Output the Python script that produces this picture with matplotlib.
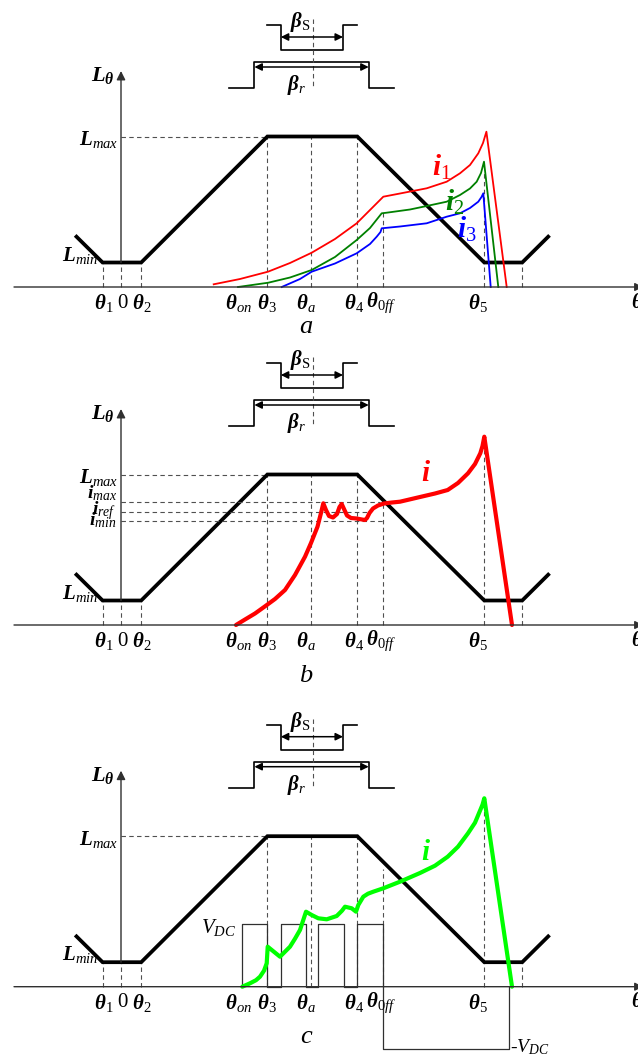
import matplotlib.pyplot as plt

plt.rcParams['mathtext.fontset'] = 'custom'
plt.rcParams['mathtext.rm'] = 'Liberation Serif'
plt.rcParams['mathtext.it'] = 'Liberation Serif:italic'
plt.rcParams['mathtext.bf'] = 'Liberation Serif:bold'
plt.rcParams['mathtext.bfit'] = 'Liberation Serif:italic:bold'
plt.rcParams['font.family'] = ['Liberation Serif', 'DejaVu Serif']

# rotor angle positions on the theta axis
th_1, th_0, th_2 = 102.6, 121.0, 141.2
th_3, th_a, th_4, th_off = 267.4, 311.4, 357.3, 382.6
th_5, th_6 = 484.3, 522.2

# inductance profile L(theta), height above the theta axis
L_max = 150.5
L_min = 24.5
L_x = [76.5, th_1, th_2, th_3, th_4, th_5, th_6, 548.2]
L_h = [50.3, L_min, L_min, L_max, L_max, L_min, L_min, 50.3]

# stator / rotor pole sketch above each graph
stator_x = [266.6, 280.8, 280.8, 343.0, 343.0, 357.0]
stator_h = [262, 262, 237, 237, 262, 262]
rotor_x = [228.7, 254.4, 254.4, 368.7, 368.7, 394.0]
rotor_h = [199, 199, 225, 225, 199, 199]
pole_axis = 312.6

# tick labels under the theta axis
tick_lbl = [r'$\mathbfit{\theta}_{1}$', '0', r'$\mathbfit{\theta}_{2}$',
            r'$\mathbfit{\theta}_{on}$', r'$\mathbfit{\theta}_{3}$',
            r'$\mathbfit{\theta}_{a}$', r'$\mathbfit{\theta}_{4}$',
            r'$\mathbfit{\theta}_{\mathit{0ff}}$', r'$\mathbfit{\theta}_{5}$',
            r'$\mathbfit{\theta}$']
tick_x = [104, 122.5, 141.5, 239, 267, 306, 354, 381, 478, 637]

# panel a : three currents for different turn-on angles
i1_x = [213.7, 240, 268, 290, 311.7, 335, 356.7, 383.3, 400, 426.7, 446.7,
        460, 470, 478.3, 483, 486.4, 506.7]
i1_h = [2.7, 8, 15.3, 24, 34.3, 48, 63.7, 90.3, 93.5, 98.7, 105.3,
        113.7, 122, 133.7, 144, 155.3, 0]
i2_x = [238, 268.3, 290, 311.7, 335, 356.7, 370, 381.7, 386.7, 410, 426.7,
        446.7, 460, 470, 476.7, 481, 484, 498.3]
i2_h = [0, 4.3, 9.5, 17, 30, 47, 59, 73.7, 74.3, 77.5, 81,
        85.3, 92, 98.5, 105.3, 114, 125.3, 0]
i3_x = [281.7, 300, 311.7, 335, 356.7, 370, 376.7, 380.5, 381.7, 400, 426.7,
        446.7, 460, 470, 478.3, 481.5, 483.3, 490.7]
i3_h = [0, 8, 15.3, 23.5, 33.7, 43, 50.3, 55, 58.7, 60.5, 63.7,
        70.3, 73.7, 79, 85.3, 90, 93.7, 0]

# panel b : current chopping between i_min and i_max
i_max, i_ref, i_min = 122.7, 113.3, 104.0
ib_x = [236, 245, 255, 264.5, 275, 285, 295, 305, 311, 317.5, 321, 323.3,
        326, 329, 333, 337, 339.5, 341.7, 344, 347, 351, 356.7, 362, 365,
        367, 369.5, 373, 378, 384, 392, 400, 420, 435, 447.7, 458, 468,
        475, 480.3, 482.5, 484.3, 512]
ib_h = [0, 5.5, 11.5, 18.3, 26, 35, 50, 68.3, 82, 98.3, 112, 121.7,
        115, 109, 107.5, 111, 118, 121, 116, 109.5, 107, 106.5, 105.5, 105,
        107, 112, 116.5, 119.5, 121.5, 122.5, 123.3, 128, 131.5, 135, 142, 151.7,
        161, 171.7, 179, 188.3, 0]

# panel c : voltage PWM and resulting current
pwm_on = [242.3, 280.7, 318.3, 356.7]
pwm_off = [267.3, 306.0, 344.3, th_off]
V_dc = 62.4
neg_end = 509.0
ic_x = [242.3, 250, 256, 260, 264, 266.7, 267.7, 280, 285, 290, 295, 300,
        306, 311.7, 318.3, 326.7, 336.7, 342, 345, 351.7, 356, 358.3, 363.3,
        368, 373.3, 383.3, 400, 420, 435, 447.7, 458, 468, 475, 480.3, 482.5,
        484.3, 512]
ic_h = [0, 3.4, 6.5, 10, 16, 23.4, 40, 30, 35, 40, 48, 56.7,
        75, 71.7, 68.4, 67.4, 70.7, 76, 80, 78.4, 75, 81.7, 90,
        93, 95, 98.4, 105, 113.7, 121, 130, 140, 153.4, 164, 176.7, 182,
        188.4, 0]

bases = [287.0, 625.0, 986.7]
letters = ['a', 'b', 'c']
letter_off = [40, 51, 50]
off_top = [74, 122, 118]
five_top = [117, 175, 188]

fig = plt.figure(figsize=(6.38, 10.57), dpi=100)
ax = fig.add_axes([0, 0, 1, 1])
ax.set_xlim(0, 638)
ax.set_ylim(1057, 0)
ax.axis('off')

ink = '#303030'
dash = dict(color='#505050', lw=0.8, linestyle=(0, (4, 3)))


def Y(base, h):
    if isinstance(h, list):
        return [base - v for v in h]
    return base - h


for k, base in enumerate(bases):
    # pole sketch
    ax.plot(stator_x, Y(base, stator_h), color='k', lw=1.2)
    ax.plot(rotor_x, Y(base, rotor_h), color='k', lw=1.2)
    ax.plot([pole_axis, pole_axis], [Y(base, 268), Y(base, 199)], **dash)
    ax.annotate('', xy=(stator_x[3], Y(base, 250)), xytext=(stator_x[1], Y(base, 250)),
                arrowprops=dict(arrowstyle='<|-|>', color='k', lw=1.1,
                                mutation_scale=11, shrinkA=0, shrinkB=0))
    ax.annotate('', xy=(rotor_x[3], Y(base, 220)), xytext=(rotor_x[1], Y(base, 220)),
                arrowprops=dict(arrowstyle='<|-|>', color='k', lw=1.1,
                                mutation_scale=11, shrinkA=0, shrinkB=0))
    ax.text(300, Y(base, 265), r'$\mathbfit{\beta}_{\mathrm{S}}$', fontsize=15,
            ha='center', va='center')
    ax.text(297, Y(base, 202), r'$\mathbfit{\beta}_{r}$', fontsize=15,
            ha='center', va='center')

    # axes
    ax.annotate('', xy=(643, base), xytext=(14, base), annotation_clip=False,
                arrowprops=dict(arrowstyle='-|>', color=ink, lw=1.0,
                                mutation_scale=12, shrinkA=0, shrinkB=0))
    ax.annotate('', xy=(th_0, Y(base, 216)), xytext=(th_0, Y(base, L_min)),
                arrowprops=dict(arrowstyle='-|>', color=ink, lw=1.0,
                                mutation_scale=13, shrinkA=0, shrinkB=0))
    ax.plot([th_0, th_0], [base, Y(base, L_min)], **dash)
    ax.text(103, Y(base, 211), r'$\mathbfit{L}_{\mathbfit{\theta}}$', fontsize=16,
            ha='center', va='center')
    ax.text(118, Y(base, L_max - 3), r'$\mathbfit{L}_{\mathit{max}}$', fontsize=15,
            ha='right', va='center')
    ax.text(98, Y(base, 32), r'$\mathbfit{L}_{\mathit{min}}$', fontsize=15,
            ha='right', va='center')

    # dashed guides
    ax.plot([th_0, th_3], [Y(base, L_max)] * 2, **dash)
    for xv in [th_1, th_2, th_6]:
        ax.plot([xv, xv], [base, Y(base, L_min)], **dash)
    for xv in [th_3, th_a, th_4]:
        ax.plot([xv, xv], [base, Y(base, L_max)], **dash)
    ax.plot([th_off, th_off], [base, Y(base, off_top[k])], **dash)
    ax.plot([th_5, th_5], [base, Y(base, five_top[k])], **dash)

    # inductance
    ax.plot(L_x, Y(base, L_h), color='k', lw=2.7, solid_joinstyle='miter')

    for lbl, xv in zip(tick_lbl, tick_x):
        ax.text(xv, base + 16, lbl, fontsize=15, ha='center', va='center')
    ax.text(306, base + letter_off[k], letters[k], fontsize=19, style='italic',
            ha='center', va='center')

# panel a currents
b = bases[0]
ax.plot(i1_x, Y(b, i1_h), color='#ff0000', lw=1.3, solid_joinstyle='round')
ax.plot(i2_x, Y(b, i2_h), color='#008000', lw=1.3, solid_joinstyle='round')
ax.plot(i3_x, Y(b, i3_h), color='#0000ff', lw=1.3, solid_joinstyle='round')
ax.text(442, Y(b, 120), r'$\mathbfit{i}_{1}$', fontsize=21, color='#ff0000',
        ha='center', va='center')
ax.text(455, Y(b, 85), r'$\mathbfit{i}_{2}$', fontsize=21, color='#008000',
        ha='center', va='center')
ax.text(467, Y(b, 58), r'$\mathbfit{i}_{3}$', fontsize=21, color='#0000ff',
        ha='center', va='center')

# panel b current with hysteresis band
b = bases[1]
ax.plot([th_0, 380], [Y(b, i_max)] * 2, **dash)
ax.plot([th_0, 368], [Y(b, i_ref)] * 2, **dash)
ax.plot([th_0, th_off], [Y(b, i_min)] * 2, **dash)
ax.text(117, Y(b, 132), r'$\mathbfit{i}_{\mathit{max}}$', fontsize=14,
        ha='right', va='center')
ax.text(116, Y(b, 114), r'$\mathbfit{i}_{\mathit{ref}}$', fontsize=14,
        ha='right', va='center')
ax.text(116, Y(b, 105), r'$\mathbfit{i}_{\mathit{min}}$', fontsize=14,
        ha='right', va='center')
ax.plot(ib_x, Y(b, ib_h), color='#ff0000', lw=3.0, solid_capstyle='round',
        solid_joinstyle='round')
ax.text(426, Y(b, 151), r'$\mathbfit{i}$', fontsize=21, color='#ff0000',
        ha='center', va='center')

# panel c voltage and current
b = bases[2]
vx, vh = [], []
for on, off in zip(pwm_on, pwm_off):
    vx += [on, on, off]
    vh += [0, V_dc, V_dc]
    if off != th_off:
        vx.append(off)
        vh.append(0)
vx += [th_off, neg_end, neg_end]
vh += [-V_dc, -V_dc, 0]
ax.plot(vx, Y(b, vh), color='#303030', lw=0.9)
ax.text(219, Y(b, 59), r'$\mathit{V}_{\mathit{DC}}$', fontsize=15,
        ha='center', va='center')
ax.text(510, Y(b, -60), r'-$\mathit{V}_{\mathit{DC}}$', fontsize=14,
        ha='left', va='center')
ax.plot(ic_x, Y(b, ic_h), color='#00ff00', lw=3.0, solid_capstyle='round',
        solid_joinstyle='round')
ax.text(426, Y(b, 134), r'$\mathbfit{i}$', fontsize=21, color='#00ff00',
        ha='center', va='center')

fig.savefig('out.png', dpi=100)
